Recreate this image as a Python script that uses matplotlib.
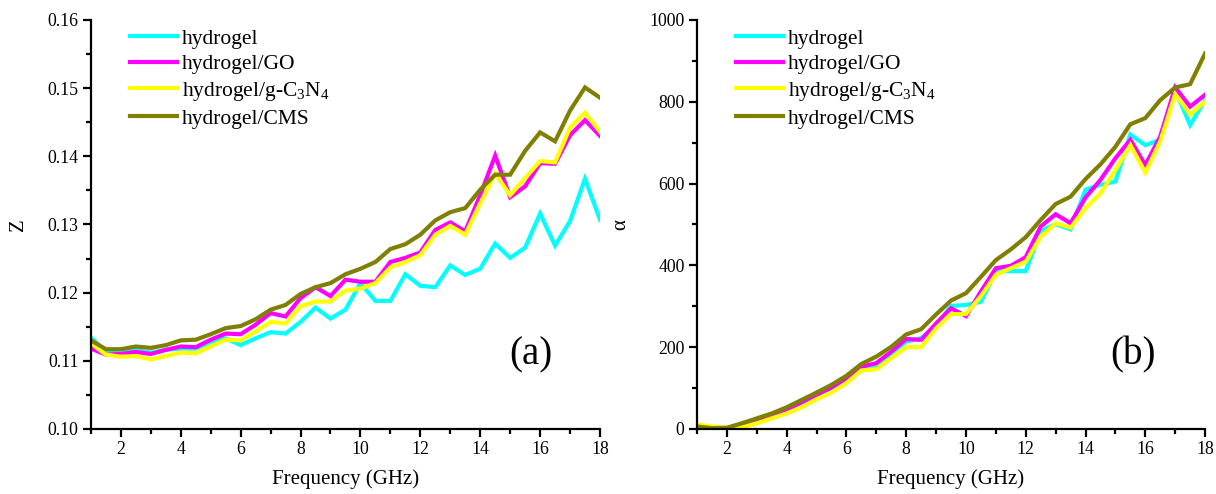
#!/usr/bin/env python3

import matplotlib
matplotlib.use("Agg")
import matplotlib.pyplot as plt
from matplotlib.ticker import MultipleLocator, FormatStrFormatter
import numpy as np

plt.rcParams['font.family'] = ['Liberation Serif', 'DejaVu Serif']
plt.rcParams['mathtext.fontset'] = 'custom'
plt.rcParams['mathtext.rm'] = 'Liberation Serif'
plt.rcParams['mathtext.it'] = 'Liberation Serif:italic'

# frequency grid, 1 to 18 GHz in 0.5 GHz steps
freq = np.arange(1, 18.01, 0.5)

labels = ["hydrogel", "hydrogel/GO", "hydrogel/g-C$_3$N$_4$", "hydrogel/CMS"]
colors = ["#00FFFF", "#FF00FF", "#FFFF00", "#808000"]

# (a) impedance Z
z_hydrogel = [0.1134, 0.1113, 0.1113, 0.1116, 0.1112, 0.1116, 0.1118, 0.1118, 0.1128, 0.1133,
              0.1123, 0.1133, 0.1142, 0.1140, 0.1157, 0.1178, 0.1162, 0.1175, 0.1214, 0.1188,
              0.1188, 0.1227, 0.1210, 0.1208, 0.1240, 0.1226, 0.1235, 0.1272, 0.1251, 0.1266,
              0.1316, 0.1269, 0.1305, 0.1367, 0.1307]
z_go = [0.1118, 0.1109, 0.1110, 0.1113, 0.1110, 0.1116, 0.1121, 0.1120, 0.1131, 0.1140,
        0.1139, 0.1153, 0.1170, 0.1165, 0.1192, 0.1208, 0.1195, 0.1219, 0.1216, 0.1216,
        0.1245, 0.1251, 0.1259, 0.1292, 0.1303, 0.1290, 0.1343, 0.1401, 0.1340, 0.1356,
        0.1390, 0.1389, 0.1431, 0.1453, 0.1430]
z_c3n4 = [0.1126, 0.1109, 0.1106, 0.1107, 0.1102, 0.1107, 0.1112, 0.1111, 0.1121, 0.1131,
          0.1130, 0.1143, 0.1157, 0.1155, 0.1180, 0.1187, 0.1187, 0.1203, 0.1206, 0.1214,
          0.1237, 0.1245, 0.1255, 0.1285, 0.1298, 0.1285, 0.1331, 0.1375, 0.1343, 0.1368,
          0.1393, 0.1391, 0.1442, 0.1464, 0.1436]
z_cms = [0.1130, 0.1117, 0.1117, 0.1121, 0.1119, 0.1123, 0.1130, 0.1131, 0.1139, 0.1148,
         0.1151, 0.1161, 0.1175, 0.1182, 0.1198, 0.1208, 0.1214, 0.1227, 0.1235, 0.1245,
         0.1264, 0.1271, 0.1285, 0.1306, 0.1318, 0.1324, 0.1351, 0.1373, 0.1373, 0.1408,
         0.1435, 0.1422, 0.1467, 0.1501, 0.1486]

# (b) attenuation constant alpha
a_hydrogel = [0, 0, 0, 7, 18, 30, 45, 61, 79, 97,
              117, 143, 151, 185, 214, 222, 252, 301, 303, 311,
              385, 386, 386, 484, 501, 488, 585, 597, 605, 720,
              694, 707, 829, 743, 804]
a_go = [2, 0, 2, 10, 20, 34, 48, 65, 83, 101,
        124, 152, 161, 189, 220, 218, 258, 295, 276, 336,
        393, 399, 420, 495, 525, 503, 566, 609, 662, 707,
        645, 715, 835, 788, 817]
a_c3n4 = [11, 6, 3, 4, 14, 26, 38, 53, 73, 89,
          112, 143, 146, 173, 200, 200, 246, 281, 281, 325,
          377, 393, 409, 470, 503, 492, 540, 576, 633, 694,
          627, 703, 819, 769, 800]
a_cms = [6, 2, 3, 14, 26, 38, 53, 71, 89, 108,
         130, 159, 177, 201, 231, 244, 280, 314, 332, 372,
         413, 439, 469, 511, 550, 568, 611, 647, 690, 745,
         760, 804, 835, 843, 918]

fig = plt.figure(figsize=(12.16, 4.94), dpi=100)
ax1 = fig.add_axes([0.0748, 0.1316, 0.4186, 0.828])
ax2 = fig.add_axes([0.5732, 0.1316, 0.4178, 0.828])

for ax, series in ((ax1, [z_hydrogel, z_go, z_c3n4, z_cms]),
                   (ax2, [a_hydrogel, a_go, a_c3n4, a_cms])):
    for y, c, lab in zip(series, colors, labels):
        ax.plot(freq, y, color=c, lw=3, label=lab, solid_joinstyle='miter')
    ax.set_xlim(1, 18)
    ax.xaxis.set_major_locator(MultipleLocator(2))
    ax.xaxis.set_minor_locator(MultipleLocator(1))
    ax.spines['top'].set_visible(False)
    ax.spines['right'].set_visible(False)
    for s in ('left', 'bottom'):
        ax.spines[s].set_linewidth(1.6)
    ax.tick_params(which='major', direction='out', length=6, width=1.6, labelsize=12.8, pad=3)
    ax.tick_params(which='minor', direction='out', length=3.5, width=1.6)
    ax.set_xlabel("Frequency (GHz)", fontsize=15, labelpad=8)
    leg = ax.legend(loc='upper left', bbox_to_anchor=(0.06, 1.0), frameon=False,
                    fontsize=15.5, handlelength=2.2, handletextpad=0.2,
                    labelspacing=0.26, borderaxespad=0)

ax1.set_ylim(0.10, 0.16)
ax1.yaxis.set_major_locator(MultipleLocator(0.01))
ax1.yaxis.set_minor_locator(MultipleLocator(0.005))
ax1.yaxis.set_major_formatter(FormatStrFormatter('%.2f'))
ax1.set_ylabel("Z", fontsize=15, labelpad=14)
ax1.text(0.864, 0.181, "(a)", transform=ax1.transAxes, fontsize=28,
         ha='center', va='center')

ax2.set_ylim(0, 1000)
ax2.yaxis.set_major_locator(MultipleLocator(200))
ax2.yaxis.set_minor_locator(MultipleLocator(100))
ax2.set_ylabel("α", fontsize=15, labelpad=14)
ax2.text(0.858, 0.181, "(b)", transform=ax2.transAxes, fontsize=28,
         ha='center', va='center')

fig.savefig("out.png", dpi=100)
